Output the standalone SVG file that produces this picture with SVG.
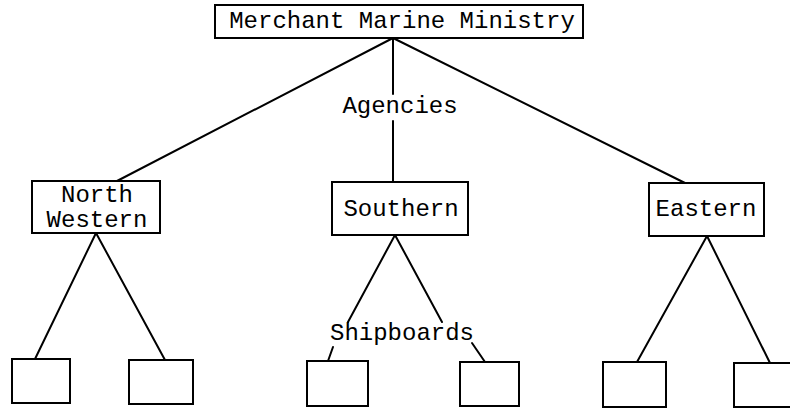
<svg xmlns="http://www.w3.org/2000/svg" width="790" height="409" viewBox="0 0 790 409">
<style>
.box{fill:#fff;stroke:#000;stroke-width:2}
.ln{stroke:#000;stroke-width:2;fill:none;stroke-linecap:round}
text{font-family:"Liberation Mono","Courier New",monospace;font-size:24px;fill:#000;text-anchor:middle}
</style>
<rect width="790" height="409" fill="#fff"/>
<g id="connectors">
<line class="ln" x1="393" y1="38" x2="117" y2="181"/>
<line class="ln" x1="393" y1="38" x2="685" y2="183"/>
<line class="ln" x1="393" y1="38" x2="393" y2="94"/>
<line class="ln" x1="393" y1="121" x2="393" y2="182"/>
<line class="ln" x1="96" y1="233" x2="35" y2="359"/>
<line class="ln" x1="96" y1="233" x2="165" y2="360"/>
<line class="ln" x1="395" y1="235" x2="348" y2="322"/>
<line class="ln" x1="395" y1="235" x2="442" y2="322"/>
<line class="ln" x1="333" y1="347" x2="328" y2="361"/>
<line class="ln" x1="472" y1="343" x2="485" y2="362"/>
<line class="ln" x1="707" y1="236" x2="637" y2="362"/>
<line class="ln" x1="707" y1="236" x2="770" y2="363"/>
</g>
<g id="ministry">
<rect class="box" x="215" y="5" width="368" height="33"/>
<text x="402" y="28">Merchant Marine Ministry</text>
</g>
<g id="agencies-label">
<text x="400" y="113">Agencies</text>
</g>
<g id="north-western">
<rect class="box" x="32" y="181" width="128" height="52"/>
<text x="97" y="202">North</text>
<text x="97" y="227">Western</text>
</g>
<g id="southern">
<rect class="box" x="332" y="182" width="136" height="53"/>
<text x="401" y="216">Southern</text>
</g>
<g id="eastern">
<rect class="box" x="649" y="183" width="115" height="53"/>
<text x="706" y="216">Eastern</text>
</g>
<g id="shipboards-label">
<text x="402" y="340">Shipboards</text>
</g>
<g id="ship1"><rect class="box" x="12" y="359" width="58" height="44"/></g>
<g id="ship2"><rect class="box" x="129" y="360" width="64" height="44"/></g>
<g id="ship3"><rect class="box" x="307" y="361" width="61" height="45"/></g>
<g id="ship4"><rect class="box" x="460" y="362" width="59" height="44"/></g>
<g id="ship5"><rect class="box" x="603" y="362" width="63" height="45"/></g>
<g id="ship6"><rect class="box" x="734" y="363" width="62" height="44"/></g>
</svg>
